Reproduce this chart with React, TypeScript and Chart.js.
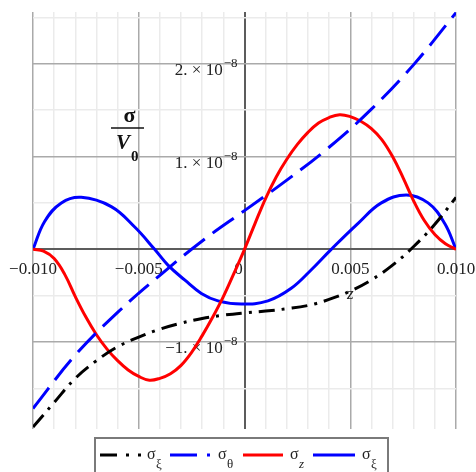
import React, { useEffect, useRef } from "react";
import { Chart, registerables } from "chart.js";

Chart.register(...registerables);

// Axis units: x values are in 1e-3, stress values in 1e-8
const X_UNIT = 1e-3;
const Y_UNIT = 1e-8;

// σ_ξ (black, dash-dot)
const sigmaXiX = [-10, -9, -8, -7, -6, -5, -4, -3, -2, -1, 0, 1, 2, 3, 4, 5, 6, 7, 8, 9, 10];
const sigmaXiY = [-1.915, -1.65, -1.39, -1.2, -1.05, -0.945, -0.86, -0.795, -0.745, -0.71, -0.685, -0.665, -0.64, -0.605, -0.54, -0.45, -0.33, -0.17, 0.03, 0.27, 0.56];

// σ_θ (blue, long dash)
const sigmaThetaX = [-10, -8, -6, -4, -2, 0, 2, 4, 6, 8, 10];
const sigmaThetaY = [-1.715, -1.14, -0.68, -0.28, 0.09, 0.417, 0.745, 1.1, 1.51, 1.99, 2.55];

// σ_z (red, solid)
const sigmaZX = [
  -10, -9.5, -9, -8.5, -8, -7.5, -7, -6.5, -6, -5.5, -5, -4.5, -4, -3.5, -3, -2.5, -2, -1.5, -1, -0.5,
  0, 0.5, 1, 1.5, 2, 2.5, 3, 3.5, 4, 4.5, 5, 5.5, 6, 6.5, 7, 7.5, 8, 8.5, 9, 9.5, 10,
];
const sigmaZY = [
  0, -0.02, -0.1, -0.27, -0.51, -0.73, -0.92, -1.075, -1.2, -1.3, -1.37, -1.41, -1.39, -1.34, -1.25, -1.11, -0.93, -0.73, -0.51, -0.26,
  0, 0.28, 0.55, 0.78, 0.97, 1.13, 1.26, 1.36, 1.42, 1.45, 1.43, 1.38, 1.3, 1.18, 1.0, 0.77, 0.52, 0.31, 0.16, 0.06, 0,
];

// σ_ξ (blue, solid)
const sigmaXi2X = [-10, -9.45, -8.66, -7.72, -6.3, -5.19, -4.25, -3.62, -2.83, -2.04, -1.25, -0.15, 1.11, 2.21, 3.16, 4.1, 5.37, 6.47, 7.65, 8.68, 9.46, 10];
const sigmaXi2Y = [0, 0.3, 0.5, 0.56, 0.46, 0.24, 0, -0.17, -0.33, -0.475, -0.555, -0.59, -0.555, -0.42, -0.22, 0, 0.28, 0.5, 0.586, 0.5, 0.28, 0];

// Axis ranges (in units above)
const X_MIN = -10;
const X_MAX = 10;
const Y_MIN = -1.936;
const Y_MAX = 2.557;

// Grid lines and tick labels
const xGridValues = [-10, -9, -8, -7, -6, -5, -4, -3, -2, -1, 0, 1, 2, 3, 4, 5, 6, 7, 8, 9, 10];
const yGridValues = [-1.5, -1, -0.5, 0, 0.5, 1, 1.5, 2, 2.5];
const xTickValues = [-10, -5, 0, 5, 10];
const xTickLabels = ["\u22120.010", "\u22120.005", "0", "0.005", "0.010"];
const yTickValues = [-1, 1, 2];
const yTickMantissas = ["\u22121.", "1.", "2."];
const yTickExponent = "\u22128";

// Legend entries: subscripts of σ
const legendSubscripts = ["\u03BE", "\u03B8", "z", "\u03BE"];

const SERIF = '"Liberation Serif", "Times New Roman", serif';

const toPoints = (xs: number[], ys: number[]) =>
  xs.map((x, i) => ({ x: x * X_UNIT, y: ys[i] * Y_UNIT }));

function gridStyle(index: number, majorEvery: number) {
  if (index === 0) return { color: "#5c5c5c", width: 2 };
  if (index % majorEvery === 0) return { color: "#aaaaaa", width: 1.5 };
  return { color: "#ebebeb", width: 1.5 };
}

const labelsPlugin = {
  id: "axisLabels",
  beforeDatasetsDraw(chart: any) {
    const { ctx, scales } = chart;
    const xs = scales.x;
    const ys = scales.y;
    const y0 = ys.getPixelForValue(0);
    const x0 = xs.getPixelForValue(0);
    ctx.save();
    ctx.fillStyle = "#222";
    ctx.textBaseline = "alphabetic";

    // x tick labels along the horizontal axis
    ctx.font = `17px ${SERIF}`;
    ctx.textAlign = "center";
    xTickValues.forEach((v, i) => {
      let px = xs.getPixelForValue(v * X_UNIT);
      if (v === 0) px -= 6;
      ctx.fillText(xTickLabels[i], px, y0 + 25);
    });

    // y tick labels with power-of-ten exponent, left of the vertical axis
    yTickValues.forEach((v, i) => {
      const py = ys.getPixelForValue(v * Y_UNIT);
      const right = x0 - 7;
      ctx.font = `13px ${SERIF}`;
      const expW = ctx.measureText(yTickExponent).width;
      ctx.textAlign = "right";
      ctx.fillText(yTickExponent, right, py + 3);
      ctx.font = `17px ${SERIF}`;
      ctx.fillText(`${yTickMantissas[i]} \u00D7 10`, right - expW - 1, py + 11);
    });

    // x axis name
    ctx.font = `italic 17px ${SERIF}`;
    ctx.textAlign = "center";
    ctx.fillText("z", xs.getPixelForValue(5 * X_UNIT), y0 + 50);

    // y axis name: σ / V0
    ctx.fillStyle = "#111";
    ctx.font = `bold 22px ${SERIF}`;
    ctx.textAlign = "center";
    ctx.fillText("\u03C3", 129.5, 122);
    ctx.strokeStyle = "#111";
    ctx.lineWidth = 1.5;
    ctx.beginPath();
    ctx.moveTo(111, 128);
    ctx.lineTo(144, 128);
    ctx.stroke();
    ctx.textAlign = "left";
    ctx.font = `italic bold 21px ${SERIF}`;
    ctx.fillText("V", 116, 149);
    ctx.font = `bold 15px ${SERIF}`;
    ctx.fillText("0", 131, 161);
    ctx.restore();
  },
  afterDraw(chart: any) {
    const { ctx } = chart;
    ctx.save();
    ctx.strokeStyle = "#7a7a7a";
    ctx.lineWidth = 2;
    ctx.strokeRect(95, 438, 293, 60);

    const ly = 455;
    const samples = [
      { x1: 100, x2: 141, color: "#000000", dash: [17, 9, 3, 9], text: 147 },
      { x1: 170, x2: 211, color: "#0000ff", dash: [27, 10, 3, 10], text: 218 },
      { x1: 243, x2: 283, color: "#ff0000", dash: [], text: 290 },
      { x1: 313, x2: 355, color: "#0000ff", dash: [], text: 362 },
    ];
    samples.forEach((s, i) => {
      ctx.strokeStyle = s.color;
      ctx.lineWidth = 3;
      ctx.setLineDash(s.dash);
      ctx.beginPath();
      ctx.moveTo(s.x1, ly);
      ctx.lineTo(s.x2, ly);
      ctx.stroke();
      ctx.setLineDash([]);
      ctx.fillStyle = "#222";
      ctx.textAlign = "left";
      ctx.font = `16px ${SERIF}`;
      ctx.fillText("\u03C3", s.text, 459);
      const sub = legendSubscripts[i];
      ctx.font = sub === "z" ? `italic 13px ${SERIF}` : `13px ${SERIF}`;
      ctx.fillText(sub, s.text + 9, 468);
    });
    ctx.restore();
  },
};

export default function App() {
  const canvasRef = useRef<HTMLCanvasElement>(null);

  useEffect(() => {
    const line = (label: string, xs: number[], ys: number[], color: string, dash: number[]) => ({
      label,
      data: toPoints(xs, ys),
      borderColor: color,
      backgroundColor: color,
      borderWidth: 3,
      borderDash: dash,
      pointRadius: 0,
      tension: 0.4,
      fill: false,
    });

    const chart = new Chart(canvasRef.current!, {
      type: "line",
      data: {
        datasets: [
          line("σξ", sigmaXiX, sigmaXiY, "#000000", [16, 7, 3, 7]),
          line("σθ", sigmaThetaX, sigmaThetaY, "#0000ff", [26, 10]),
          line("σz", sigmaZX, sigmaZY, "#ff0000", []),
          line("σξ2", sigmaXi2X, sigmaXi2Y, "#0000ff", []),
        ],
      },
      options: {
        animation: false,
        responsive: true,
        maintainAspectRatio: false,
        devicePixelRatio: 1,
        layout: { padding: { left: 33, right: 20, top: 12, bottom: 43 } },
        plugins: { legend: { display: false }, tooltip: { enabled: false } },
        events: [],
        scales: {
          x: {
            type: "linear",
            min: X_MIN * X_UNIT,
            max: X_MAX * X_UNIT,
            afterBuildTicks: (s: any) => {
              s.ticks = xGridValues.map((v) => ({ value: v * X_UNIT }));
            },
            ticks: { display: false },
            border: { display: false },
            grid: {
              drawTicks: false,
              color: (c: any) =>
                c.tick ? gridStyle(Math.round(c.tick.value / X_UNIT), 5).color : "transparent",
              lineWidth: (c: any) =>
                c.tick ? gridStyle(Math.round(c.tick.value / X_UNIT), 5).width : 0,
            },
          },
          y: {
            type: "linear",
            min: Y_MIN * Y_UNIT,
            max: Y_MAX * Y_UNIT,
            afterBuildTicks: (s: any) => {
              s.ticks = yGridValues.map((v) => ({ value: v * Y_UNIT }));
            },
            ticks: { display: false },
            border: { display: false },
            grid: {
              drawTicks: false,
              color: (c: any) =>
                c.tick ? gridStyle(Math.round((c.tick.value / Y_UNIT) * 2), 2).color : "transparent",
              lineWidth: (c: any) =>
                c.tick ? gridStyle(Math.round((c.tick.value / Y_UNIT) * 2), 2).width : 0,
            },
          },
        },
      },
      plugins: [labelsPlugin],
    });
    return () => chart.destroy();
  }, []);

  return (
    <div style={{ position: "fixed", left: 0, top: 0, width: 476, height: 472, background: "#ffffff" }}>
      <canvas ref={canvasRef} />
    </div>
  );
}
